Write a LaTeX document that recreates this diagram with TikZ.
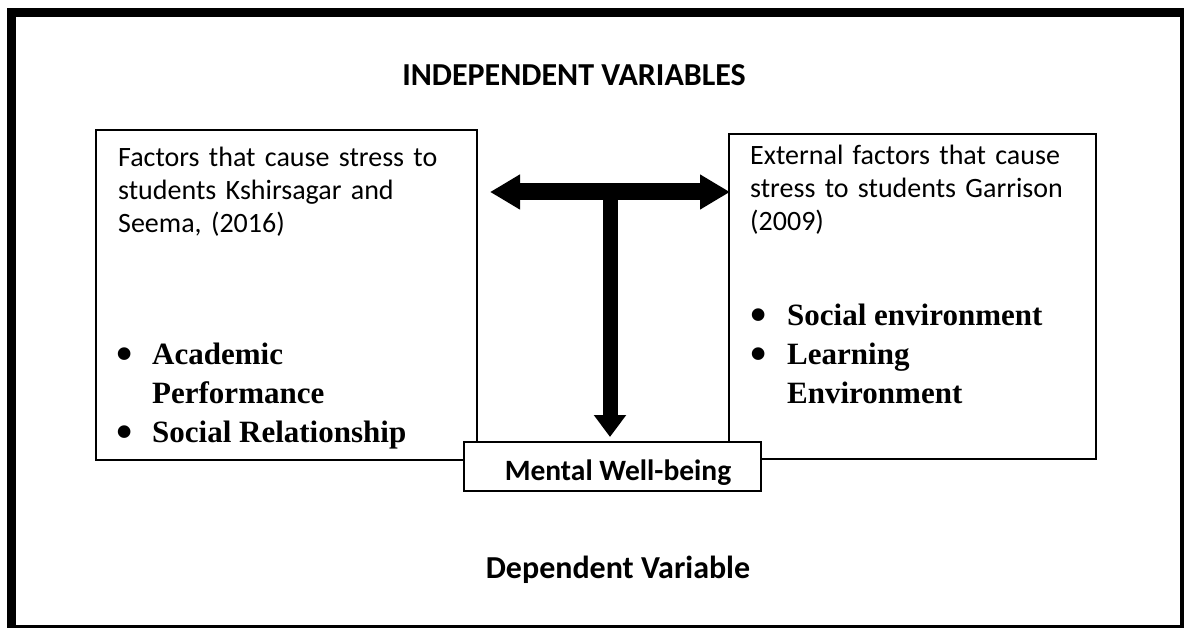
\documentclass[tikz,border=0pt]{standalone}
\usepackage{fontspec}
\setmainfont{Carlito}
\newfontfamily\bulletfont{Liberation Serif}
\usetikzlibrary{arrows.meta}
\newcommand{\itemdot}{\smash{\raisebox{-5pt}{\scalebox{1.5}{\textbullet}}}}

\begin{document}
\begin{tikzpicture}[x=1pt, y=-1pt,
    frame/.style ={draw, line width=2pt, fill=white},
    plaintext/.style ={inner sep=0pt, text width=#1, align=left, font=\fontsize{28}{33}\selectfont},
    title/.style ={inner sep=0pt, font=\fontsize{32}{36}\selectfont\bfseries},
    items/.style ={inner sep=0pt, font=\bulletfont\fontsize{31}{39}\selectfont\bfseries}]
   \useasboundingbox (0,0) rectangle (1184,628);
   \fill (7,8) rectangle (1184,628);
   \fill[white] (16,17) rectangle (1180,625);

   \node[title, anchor=base] (indep) at (574,86) {INDEPENDENT VARIABLES};

   \node[frame, minimum width=381pt, minimum height=330pt, anchor=north west] (lbox) at (95,129) {};
   \node[frame, minimum width=367pt, minimum height=325pt, anchor=north west] (rbox) at (728,133) {};

   \node[plaintext=350pt, anchor=base west] (lcause) at (118,167)
      {Factors that cause stress to\\ students Kshirsagar and\\ Seema, (2016)};
   \node[plaintext=340pt, anchor=base west] (rcause) at (750,165)
      {External factors that cause\\ stress to students Garrison\\ (2009)};

   \node[items, anchor=base west] (litems) at (116,365)
      {\begin{tabular}[t]{@{}p{36pt}@{}l@{}}
        \itemdot & Academic\\
                 & Performance\\
        \itemdot & Social Relationship
       \end{tabular}};
   \node[items, anchor=base west] (ritems) at (750,326)
      {\begin{tabular}[t]{@{}p{37pt}@{}l@{}}
        \itemdot & Social environment\\
        \itemdot & Learning\\
                 & Environment
       \end{tabular}};

   \coordinate (lend) at (490,192);
   \coordinate (rend) at (730,192);
   \coordinate (tjoin) at (610,192);

   \node[frame, minimum width=297pt, minimum height=49pt, anchor=north west, title,
         font=\fontsize{29.5}{33}\selectfont\bfseries, text height=27pt, text depth=0pt] (well) at (463,441)
      {\hspace{11pt}Mental Well-being};

   \draw[line width=17pt, {Triangle[width=33pt,length=30pt]}-{Triangle[width=33pt,length=30pt]}] (lend) to (rend);
   \draw[line width=15pt, -{Triangle[width=31pt,length=22pt]}, shorten >=4pt] (tjoin) to (tjoin |- well.north);

   \node[title, anchor=base] (dep) at (618,578) {Dependent Variable};
 \end{tikzpicture}
\end{document}
